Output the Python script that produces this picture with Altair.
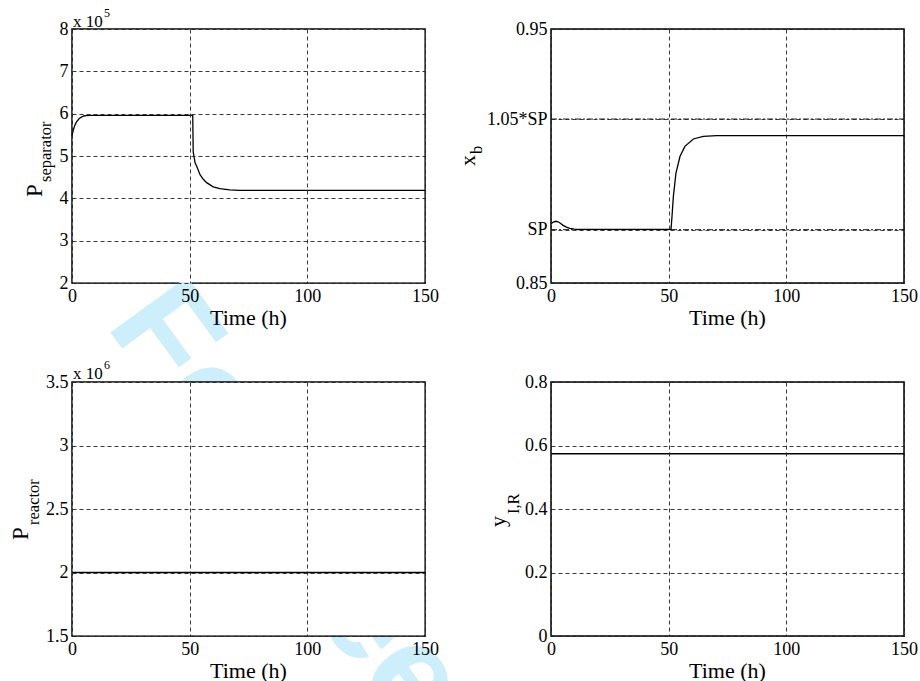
import altair as alt
import pandas as pd

SERIF = "Liberation Serif"
W, H = 353, 254          # plot area of each panel
T_TICKS = [0, 50, 100, 150]

# Separator pressure (Pa)
time_sep = [0, 0.5, 1, 1.5, 2, 3, 4, 5, 6, 8, 30, 51.3, 51.5, 52.3, 53, 54.4, 55.8,
            57.2, 60, 62.8, 67, 71.2, 150]
p_sep = [5.48e5, 5.60e5, 5.69e5, 5.76e5, 5.81e5, 5.88e5, 5.92e5, 5.945e5, 5.955e5,
         5.96e5, 5.96e5, 5.96e5, 5.10e5, 4.84e5, 4.76e5, 4.56e5, 4.45e5,
         4.37e5, 4.27e5, 4.23e5, 4.20e5, 4.19e5, 4.19e5]

# Bottoms composition x_b and its set point
SP = 0.871
time_xb = [0, 1, 2, 3, 4, 5, 6.5, 8, 10, 12, 30, 51.0, 51.4, 52.0, 53.1, 54.8, 56.9,
           60.5, 64.7, 70.4, 150]
x_b = [0.8733, 0.8740, 0.8743, 0.8741, 0.8735, 0.8728, 0.8720, 0.8715, 0.8712, 0.8711,
       0.8711, 0.8711, 0.8760, 0.8841, 0.8933, 0.8998, 0.9038,
       0.9067, 0.9077, 0.9080, 0.9080]

# Reactor pressure (Pa) and inert fraction in the recycle
time_reac = [0, 150]
p_reac = [2.0e6, 2.0e6]
time_yir = [0, 150]
y_ir = [0.574, 0.574]


def text_layer(s, x, y, size, angle=0, align="left", baseline="alphabetic",
               font=SERIF, color="black", weight="normal"):
    opts = dict(align=align, baseline=baseline, fontSize=size, font=font,
                color=color, fontWeight=weight)
    if angle:
        opts["angle"] = angle
    return alt.Chart(pd.DataFrame({"s": [s]})).mark_text(**opts).encode(
        text="s:N", x=alt.value(x), y=alt.value(y))


def x_enc():
    return alt.X("t:Q", scale=alt.Scale(domain=[0, 150], nice=False, zero=False),
                 axis=alt.Axis(values=T_TICKS, title=None, zindex=1,
                               labelExpr="'' + datum.value"))


def y_enc(domain, ticks, label_expr):
    return alt.Y("v:Q", scale=alt.Scale(domain=domain, nice=False, zero=False),
                 axis=alt.Axis(values=ticks, title=None, zindex=1,
                               labelExpr=label_expr))


def curve(t, v, domain, ticks, label_expr):
    df = pd.DataFrame({"t": t, "v": v})
    return alt.Chart(df).mark_line(color="black", strokeWidth=1.3).encode(
        x=x_enc(), y=y_enc(domain, ticks, label_expr))


def time_title():
    return text_layer("Time (h)", W / 2, H + 41.5, 22, align="center")


def cover():
    # white plot background drawn over the stamp
    return alt.Chart(pd.DataFrame({"c": [1]})).mark_rect(color="white").encode(
        x=alt.value(0.75), x2=alt.value(W - 0.75), y=alt.value(0.75),
        y2=alt.value(H - 0.75))


# background stamp, hidden behind the plot areas
stamp = text_layer("For Peer Review", 33, 296, 138, angle=54,
                   font="Liberation Sans", color="#cdeefb", weight="bold")

top_left = alt.layer(
    stamp,
    cover(),
    curve(time_sep, p_sep, [2e5, 8e5], [2e5, 3e5, 4e5, 5e5, 6e5, 7e5, 8e5],
          "'' + datum.value / 100000"),
    text_layer("P", -30, 168, 23, angle=270),
    text_layer("separator", -21.5, 153, 16.5, angle=270),
    text_layer("x 10", 1, -2.5, 17),
    text_layer("5", 32, -12, 12),
    time_title(),
).properties(width=W, height=H)

sp_lines = alt.Chart(pd.DataFrame({"v": [SP, 1.05 * SP]})).mark_rule(
    color="black", strokeWidth=0.9, strokeDash=[6, 2, 2, 2]).encode(
    y="v:Q", x=alt.value(0), x2=alt.value(W))

top_right = alt.layer(
    curve(time_xb, x_b, [0.85, 0.95], [0.85, SP, 1.05 * SP, 0.95],
          "datum.value < 0.86 ? '0.85' : datum.value < 0.89 ? 'SP' : "
          "datum.value < 0.93 ? '1.05*SP' : '0.95'"),
    sp_lines,
    text_layer("x", -76, 137, 22, angle=270),
    text_layer("b", -69, 125, 16.5, angle=270),
    time_title(),
).properties(width=W, height=H)

bottom_left = alt.layer(
    cover(),
    curve(time_reac, p_reac, [1.5e6, 3.5e6], [1.5e6, 2e6, 2.5e6, 3e6, 3.5e6],
          "'' + datum.value / 1000000"),
    text_layer("P", -44, 158, 23, angle=270),
    text_layer("reactor", -33, 143, 16.5, angle=270),
    text_layer("x 10", 1, -3, 17),
    text_layer("6", 32, -13, 12),
    time_title(),
).properties(width=W, height=H)

bottom_right = alt.layer(
    curve(time_yir, y_ir, [0, 0.8], [0, 0.2, 0.4, 0.6, 0.8], "'' + datum.value"),
    text_layer("y", -46, 145, 22, angle=270),
    text_layer("I,R", -32, 132, 16.5, angle=270),
    time_title(),
).properties(width=W, height=H)

chart = alt.concat(
    top_left, top_right, bottom_left, bottom_right,
    columns=2, spacing={"row": 99, "column": 126}, bounds="flush",
).properties(
    padding={"left": 72, "top": 29, "right": 848, "bottom": 652},
    autosize=alt.AutoSizeParams(type="none"),
    background="white",
).configure_view(
    stroke="black", strokeWidth=1.5, fill="white",
).configure_axis(
    grid=True, gridDash=[4, 3], gridColor="#222", gridWidth=0.9,
    domain=False, ticks=False, tickSize=0,
    labelFont=SERIF, labelFontSize=18, labelColor="black",
    labelFlush=False, labelOverlap=False, labelBound=False,
).configure_axisY(
    labelPadding=4,
).configure_axisX(
    labelPadding=18.5, labelBaseline="alphabetic",
)

chart.save("out.html", embed_options={"renderer": "svg", "actions": False})
